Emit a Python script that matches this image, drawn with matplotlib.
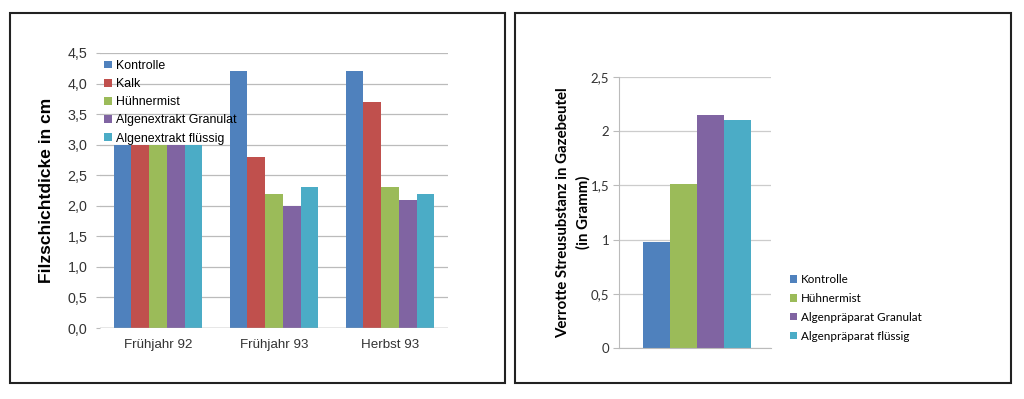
import numpy as np
import matplotlib
matplotlib.use("Agg")
import matplotlib.pyplot as plt
from matplotlib.patches import Rectangle

# left chart data
seasons = ["Frühjahr 92", "Frühjahr 93", "Herbst 93"]
left_names = ["Kontrolle", "Kalk", "Hühnermist", "Algenextrakt Granulat", "Algenextrakt flüssig"]
kontrolle = [3.0, 4.2, 4.2]
kalk = [3.0, 2.8, 3.7]
huehnermist = [3.0, 2.2, 2.3]
granulat = [3.0, 2.0, 2.1]
fluessig = [3.0, 2.3, 2.2]
left_ticks = [0, 0.5, 1.0, 1.5, 2.0, 2.5, 3.0, 3.5, 4.0, 4.5]

# right chart data
right_names = ["Kontrolle", "Hühnermist", "Algenpräparat Granulat", "Algenpräparat flüssig"]
right_values = [0.98, 1.51, 2.15, 2.1]
right_ticks = [0, 0.5, 1, 1.5, 2, 2.5]

blue, red, green, purple, aqua = "#4F81BD", "#C0504D", "#9BBB59", "#8064A2", "#4BACC6"
W, H = 1024, 399

fig = plt.figure(figsize=(W / 100, H / 100), dpi=100)
fig.patch.set_facecolor("white")

# frames around the two panels
for x0, x1 in [(10, 505), (515, 1011)]:
    fig.patches.append(Rectangle((x0 / W, 1 - 383 / H), (x1 - x0) / W, (383 - 13) / H,
                                 transform=fig.transFigure, fill=False,
                                 edgecolor="#222222", linewidth=1.5))

# ---- left chart
ax1 = fig.add_axes([100 / W, 1 - 328 / H, 348 / W, 275 / H])
series = [kontrolle, kalk, huehnermist, granulat, fluessig]
colors = [blue, red, green, purple, aqua]
x = np.arange(len(seasons))
bw = 0.153
handles = []
for i, (vals, c) in enumerate(zip(series, colors)):
    b = ax1.bar(x + (i - 2) * bw, vals, bw, color=c, zorder=2, label=left_names[i])
    handles.append(b)
ax1.set_xlim(-0.5, 2.5)
ax1.set_ylim(0, 4.5)
ax1.set_yticks(left_ticks)
ax1.set_yticklabels([f"{v:.1f}".replace(".", ",") for v in left_ticks],
                    fontsize=10.3, family="Liberation Sans", color="#333333")
ax1.set_xticks(x)
ax1.set_xticklabels(seasons, fontsize=9.6, family="Liberation Sans", color="#333333")
ax1.tick_params(axis="y", length=3, color="#BBBBBB", pad=6)
ax1.tick_params(axis="x", length=0, pad=8)
ax1.yaxis.grid(True, color="#BBBBBB", linewidth=0.9, zorder=0)
for s in ax1.spines.values():
    s.set_visible(False)
ax1.axhline(0, color="#AAAAAA", linewidth=1, zorder=3)
ax1.set_ylabel("Filzschichtdicke in cm", fontsize=12.5, fontweight="bold",
               family="Liberation Sans", labelpad=10)
ax1.legend(handles=handles, loc="upper left", bbox_to_anchor=(0.012, 0.975),
           frameon=False, prop={"family": "Liberation Sans", "size": 8.9},
           handlelength=0.6, handleheight=0.6, handletextpad=0.35,
           labelspacing=0.5, borderpad=0, borderaxespad=0)

# ---- right chart
ax2 = fig.add_axes([619 / W, 1 - 348 / H, 152 / W, 271 / H])
xr = np.arange(len(right_values))
rw = 27 / 152
pos = (xr - 1.5) * rw
rcolors = [blue, green, purple, aqua]
rh = []
for p, v, c, n in zip(pos, right_values, rcolors, right_names):
    rh.append(ax2.bar(p, v, rw, color=c, zorder=2, label=n))
ax2.set_xlim(-0.5 - 0.01, 0.5 - 0.01)
ax2.set_ylim(0, 2.5)
ax2.set_yticks(right_ticks)
ax2.set_yticklabels([str(v).replace(".", ",") for v in right_ticks],
                    fontsize=9.5, family="Lato", color="#333333")
ax2.set_xticks([])
ax2.tick_params(axis="y", length=4, color="#BBBBBB", pad=3)
ax2.yaxis.grid(True, color="#CCCCCC", linewidth=0.9, zorder=0)
for k in ["top", "right"]:
    ax2.spines[k].set_visible(False)
ax2.spines["left"].set_color("#BBBBBB")
ax2.spines["bottom"].set_color("#BBBBBB")
ax2.set_ylabel("Verrotte Streusubstanz in Gazebeutel\n(in Gramm)", fontsize=10.8,
               fontweight="bold", family="Lato", labelpad=0, linespacing=1.55)
fig.legend(handles=rh, loc="upper left", bbox_to_anchor=(790 / W, 1 - 274 / H),
           frameon=False, prop={"family": "Lato", "size": 8.4},
           handlelength=0.6, handleheight=0.6, handletextpad=0.35,
           labelspacing=0.68, borderpad=0, borderaxespad=0)

fig.savefig("out.png", dpi=100)
